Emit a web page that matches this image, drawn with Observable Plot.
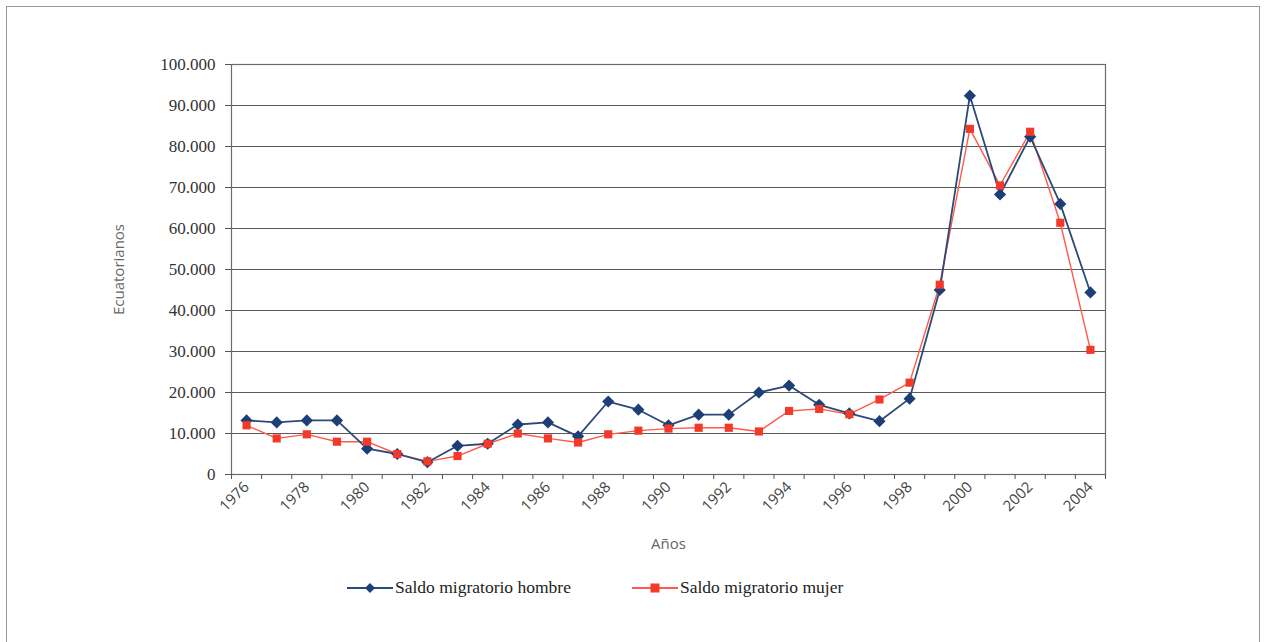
<!DOCTYPE html>
<html>
<head>
<meta charset="utf-8">
<script src="https://cdn.jsdelivr.net/npm/d3@7"></script>
<script src="https://cdn.jsdelivr.net/npm/@observablehq/plot@0.6"></script>
<style>
  body { margin: 0; background: #fff; }
  #wrap { position: relative; width: 1266px; height: 642px; background: #fff; overflow: hidden; }
  #border { position: absolute; left: 6px; top: 6px; width: 1254px; height: 660px; border: 1.5px solid #9a9a9a; box-sizing: border-box; }
  #chart { position: absolute; left: 0; top: 0; }
  #chart svg g[aria-label="y-axis tick label"] text { font-family: "Liberation Serif", serif; font-size: 17px; fill: #333; }
  #chart svg g[aria-label="x-axis tick label"] text { font-family: "Open Sans", sans-serif; font-size: 15px; fill: #444; }
  #chart svg g[aria-label="y-axis label"] text, #chart svg g[aria-label="x-axis label"] text { font-family: "Open Sans", sans-serif; font-size: 15px; fill: #666; }
  #legend { position: absolute; left: 0; top: 570px; width: 1266px; height: 40px; font-family: "Liberation Serif", serif; font-size: 17.5px; color: #222; }
  .item { position: absolute; top: 7px; display: flex; align-items: center; }
  .item svg { margin-right: 2px; }
</style>
</head>
<body>
<div id="wrap">
  <div id="border"></div>
  <div id="chart"></div>
  <div id="legend"></div>
</div>
<script>
const years = [1976,1977,1978,1979,1980,1981,1982,1983,1984,1985,1986,1987,1988,1989,1990,1991,1992,1993,1994,1995,1996,1997,1998,1999,2000,2001,2002,2003,2004];
const hombre = [13200,12700,13200,13200,6300,5000,3000,7000,7500,12200,12700,9300,17800,15800,12000,14600,14600,20000,21700,17000,14900,13000,18500,45000,92400,68300,82400,66000,44400];
const mujer = [12000,8800,9800,8000,8000,5000,3200,4500,7500,10000,8800,7800,9800,10700,11200,11400,11400,10500,15500,16000,14700,18300,22400,46300,84300,70500,83600,61400,30400];
const seriesNames = ["Saldo migratorio hombre", "Saldo migratorio mujer"];
const yTicks = [0,10000,20000,30000,40000,50000,60000,70000,80000,90000,100000];
const xLabelTicks = [1976,1978,1980,1982,1984,1986,1988,1990,1992,1994,1996,1998,2000,2002,2004];

const blue = "#1d3f78";
const blueLine = "#2c4a78";
const red = "#f2392a";
const redLine = "#ff5a48";

const fmt = d3.formatLocale({decimal: ",", thousands: ".", grouping: [3], currency: ["", ""]}).format(",");

const dataH = years.map((y, i) => ({year: y, value: hombre[i]}));
const dataM = years.map((y, i) => ({year: y, value: mujer[i]}));
const boundaries = [years[0] - 0.5, ...years.map(y => y + 0.5)];

const chart = Plot.plot({
  width: 1266,
  height: 570,
  marginLeft: 231,
  marginRight: 161,
  marginTop: 64,
  marginBottom: 96,
  style: {background: "transparent", overflow: "visible"},
  x: {type: "linear", domain: [years[0] - 0.5, years[years.length - 1] + 0.5]},
  y: {domain: [0, 100000]},
  marks: [
    Plot.gridY(yTicks, {stroke: "#5a5a5a", strokeOpacity: 1, strokeWidth: 1.2}),
    Plot.frame({stroke: "#6a6a6a", strokeWidth: 1.2}),
    Plot.axisY({ticks: yTicks, tickFormat: fmt, tickSize: 6, tickPadding: 10, stroke: "#555",
      label: "Ecuatorianos", labelAnchor: "center", labelArrow: "none", labelOffset: 118}),
    Plot.axisX({ticks: boundaries, tickFormat: () => "", tickSize: 5, stroke: "#555", label: null}),
    Plot.axisX({ticks: xLabelTicks, tickFormat: d => String(d), tickSize: 0, tickPadding: 10, tickRotate: -45,
      label: "Años", labelAnchor: "center", labelArrow: "none", labelOffset: 74}),
    Plot.line(dataM, {x: "year", y: "value", stroke: redLine, strokeWidth: 1.4}),
    Plot.line(dataH, {x: "year", y: "value", stroke: blueLine, strokeWidth: 1.8}),
    Plot.dot(dataH, {x: "year", y: "value", symbol: "diamond2", r: 5.5, fill: blue, stroke: "none"}),
    Plot.dot(dataM, {x: "year", y: "value", symbol: "square", r: 4.6, fill: red, stroke: "none"})
  ]
});
document.getElementById("chart").appendChild(chart);

// Legend
const legend = document.getElementById("legend");
const items = [
  {name: seriesNames[0], color: blueLine, fill: blue, shape: "diamond", left: 347},
  {name: seriesNames[1], color: redLine, fill: red, shape: "square", left: 632}
];
for (const it of items) {
  const div = document.createElement("div");
  div.className = "item";
  div.style.left = it.left + "px";
  const ns = "http://www.w3.org/2000/svg";
  const s = document.createElementNS(ns, "svg");
  s.setAttribute("width", 46); s.setAttribute("height", 20);
  const l = document.createElementNS(ns, "line");
  l.setAttribute("x1", 0); l.setAttribute("x2", 46); l.setAttribute("y1", 10); l.setAttribute("y2", 10);
  l.setAttribute("stroke", it.color); l.setAttribute("stroke-width", 1.8);
  s.appendChild(l);
  const m = document.createElementNS(ns, "path");
  if (it.shape === "diamond") m.setAttribute("d", "M23,5 L28,10 L23,15 L18,10 Z");
  else m.setAttribute("d", "M18.5,5.5 H27.5 V14.5 H18.5 Z");
  m.setAttribute("fill", it.fill);
  s.appendChild(m);
  div.appendChild(s);
  const t = document.createElement("span");
  t.textContent = it.name;
  div.appendChild(t);
  legend.appendChild(div);
}
</script>
</body>
</html>
